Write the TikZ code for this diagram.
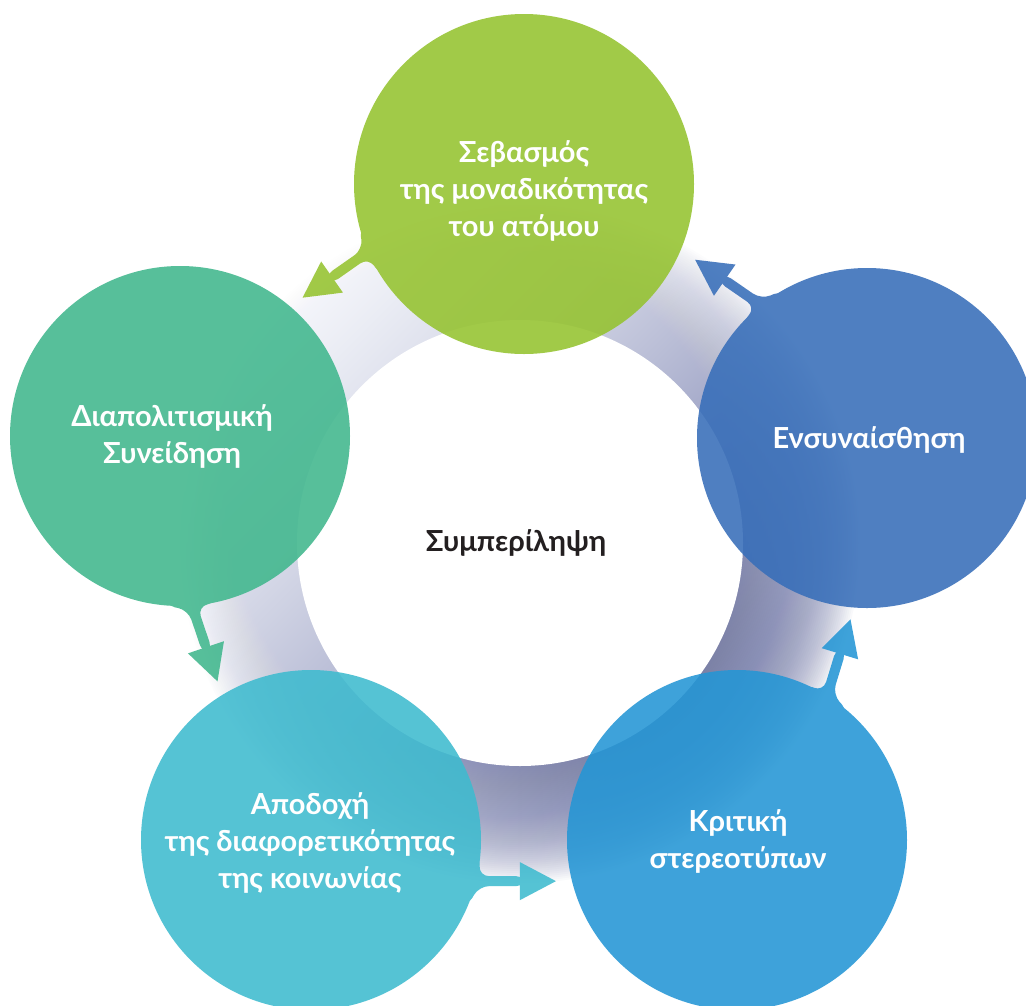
\documentclass[tikz,border=0pt]{standalone}
\usepackage{fontspec}
\setmainfont{Lato}
\usetikzlibrary{calc}
\definecolor{cgreen}{HTML}{95C32F}
\definecolor{cteal}{HTML}{40B78D}
\definecolor{crblue}{HTML}{376EB9}
\definecolor{ccyan}{HTML}{3EBBCF}
\definecolor{cbblue}{HTML}{2496D5}
\definecolor{ringlight}{HTML}{F2F4FB}
\definecolor{ringdark}{HTML}{6E75A6}
\definecolor{hubtext}{HTML}{231F20}
\tikzset{
  petalnode/.style={circle, minimum size=340pt, inner sep=0pt, draw=none},
  petaltext/.style={align=center, text=white, font=\bfseries\fontsize{29}{37}\selectfont},
  hubtextstyle/.style={align=center, text=hubtext, font=\bfseries\fontsize{29}{37}\selectfont},
  ringshade/.style={top color=ringlight, bottom color=ringdark, shading angle=45},
}
% #1 name, #2 position, #3 colour, #4 anchor angle, #5 direction, #6 text position, #7 text
\newcommand\petal[7]{%
  \begin{scope}[transparency group, opacity=0.88]
    \node[petalnode, fill=#3] (#1) at #2 {};
    \coordinate (#1a) at ($(#1.center)+({#4}:170)$);
    \fill[#3, rounded corners=10pt] (#1.center)
      -- ($(#1.center)+({#4+9}:170)$)
      -- ($(#1a)+({#5+90}:5)+({#5}:3)$)
      -- ($(#1a)+({#5+90}:5)+({#5}:50)$)
      -- ($(#1a)+({#5-90}:5)+({#5}:50)$)
      -- ($(#1a)+({#5-90}:5)+({#5}:3)$)
      -- ($(#1.center)+({#4-9}:170)$) -- cycle;
    \fill[#3] ($(#1a)+({#5}:80)$) -- ($(#1a)+({#5}:44)+({#5+90}:19)$)
      -- ($(#1a)+({#5}:44)+({#5-90}:19)$) -- cycle;
  \end{scope}
  \node[petaltext] (#1t) at #6 {#7};
}
\begin{document}
\begin{tikzpicture}[x=1pt,y=1pt]
\useasboundingbox (0,0) rectangle (1026,-1005);
\fill[white] (0,0) rectangle (1026,-1005);
\coordinate (hubc) at (520,-543);
\foreach \r in {340,338,...,224} {
  \shade[ringshade, opacity=0.04] (hubc) circle (\r);
}
\node[circle, fill=white, minimum size=446pt, inner sep=0pt] (hub) at (hubc) {};
\node[hubtextstyle] (hubt) at (516,-543) {Συμπερίληψη};
\petal{green}{(524,-184)}{cgreen}{203.5}{215}{(524,-191)}{Σεβασμός\\της μοναδικότητας\\του ατόμου}
\petal{teal}{(180,-436)}{cteal}{274}{288.7}{(172,-436)}{Διαπολιτισμική\\Συνείδηση}
\petal{cyan}{(311,-840)}{ccyan}{346}{0}{(310,-843)}{Αποδοχή\\της διαφορετικότητας\\της κοινωνίας}
\petal{bblue}{(737,-840)}{cbblue}{58}{73}{(738,-841)}{Κριτική\\στερεοτύπων}
\petal{rblue}{(867,-438)}{crblue}{128.6}{145.4}{(869,-440)}{Ενσυναίσθηση}
\end{tikzpicture}
\end{document}
